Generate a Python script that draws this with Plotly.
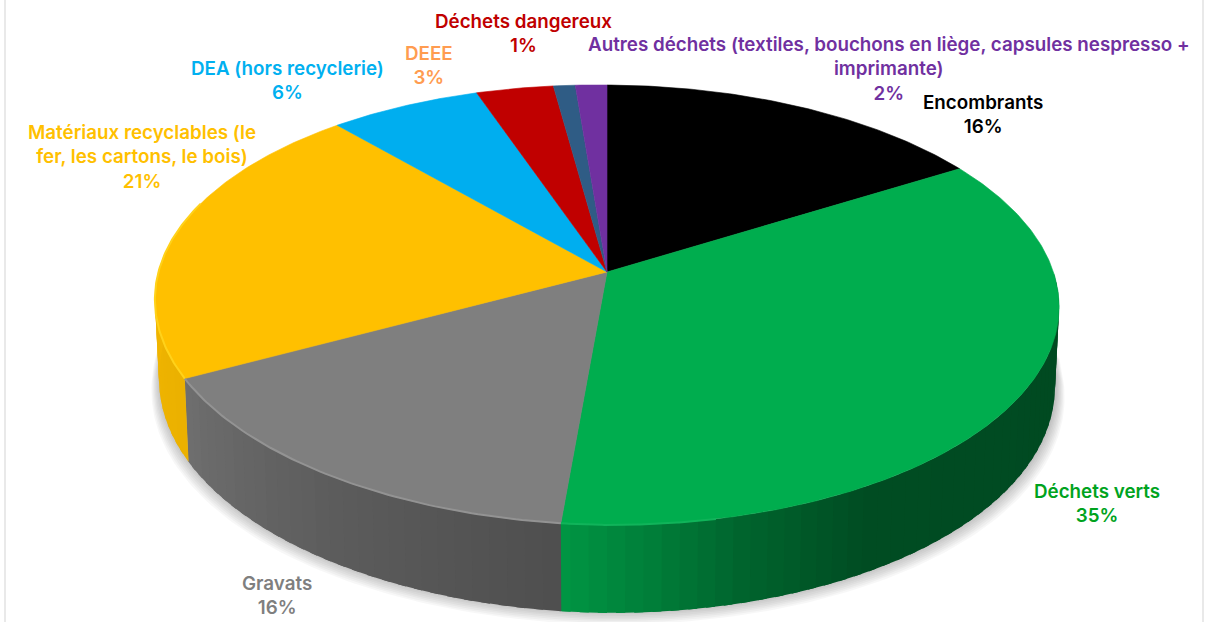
import numpy as np
import plotly.graph_objects as go

# --- data -----------------------------------------------------------------
categories = ["Encombrants", "Déchets verts", "Gravats",
              "Matériaux recyclables (le<br>fer, les cartons, le bois)",
              "DEA (hors recyclerie)", "DEEE", "Déchets dangereux",
              "Autres déchets (textiles, bouchons en liège, capsules nespresso +<br>imprimante)"]
values = [16.2, 35.2, 15.6, 21.3, 6.3, 3.2, 0.9, 1.3]
percent_labels = ["16%", "35%", "16%", "21%", "6%", "3%", "1%", "2%"]
slice_colors = ["#000000", "#00AD4E", "#7F7F7F", "#FFC000",
                "#00AEEF", "#C00000", "#2F5C85", "#7030A0"]
label_colors = ["#000000", "#00A31E", "#7F7F7F", "#FFC000",
                "#00B0F0", "#FF9C50", "#C00000", "#7030A0"]

# --- layout of the projected disc (pixel-based axes) ----------------------
W, H = 1229, 622
CX, CY = 607, 272
A, B, K = 447, 215, 0.15
TILT_LEFT, TILT_RIGHT = 0.012, 0.004
label_pos = [(983, 114), (1097, 503), (277, 595), (142, 157),
             (287, 80), (429, 65), (523, 33), (889, 69)]
# side shading: (angle, brightness factor) per slice
side_shade = {1: [(90, .42), (150, .44), (165, .58), (176, .74), (186, .88)],
              2: [(185, .62), (215, .74), (241, .87)],
              3: [(241, .92), (272, .95)]}
rim_glow = {1: ("#10B45A", 168, None), 2: ("#939393", None, None), 3: ("#FFD21A", None, 288)}


def top(theta):
    t = np.radians(theta)
    w = 1 + K * np.cos(t)
    x = CX + A * np.sin(t) / w
    tilt = np.where(x < CX, TILT_LEFT, TILT_RIGHT)
    y = CY - B * np.cos(t) / w + tilt * (x - CX)
    return x, y


def bottom(theta):
    x, y = top(theta)
    c = np.cos(np.radians(theta))
    return CX + (x - CX) * 0.991, y + 73 + 15 * np.sqrt(np.maximum(0, -c))


def scale(hex_color, f):
    r, g, b = (int(hex_color[i:i + 2], 16) for i in (1, 3, 5))
    return f"rgb({r * f:.0f},{g * f:.0f},{b * f:.0f})"


edges = 360 * np.concatenate([[0], np.cumsum(values)]) / sum(values)
fig = go.Figure()


def poly(x, y, color, line=0.0):
    fig.add_trace(go.Scatter(x=x, y=y, mode="lines", fill="toself", fillcolor=color,
                             line=dict(color=color, width=line), hoverinfo="skip",
                             showlegend=False))


# soft shadow
sh = np.linspace(90, 280, 200)
for grow in range(1, 9):
    bx, by = bottom(sh)
    x = CX + (bx - CX) * (1 + grow * 0.0024) + 1
    y = by + grow * 1.7 - 2
    x = np.concatenate([x, [CX]])
    y = np.concatenate([y, [CY]])
    fig.add_trace(go.Scatter(x=x, y=y, mode="lines", fill="toself",
                             fillcolor="rgba(0,0,0,0.03)", line=dict(width=0),
                             hoverinfo="skip", showlegend=False))

# walls
for i, shades in side_shade.items():
    a0 = max(edges[i], shades[0][0])
    a1 = min(edges[i + 1], shades[-1][0])
    steps = np.arange(a0, a1, 2.0).tolist() + [a1]
    xp, fp = zip(*shades)
    for p, q in zip(steps[:-1], steps[1:]):
        th = np.linspace(p, q + 1.0 if q < a1 else q + 0.3, 5)
        tx, ty = top(th)
        bx, by = bottom(th)
        f = float(np.interp((p + q) / 2, xp, fp))
        poly(np.concatenate([tx, bx[::-1]]), np.concatenate([ty, by[::-1]]),
             scale(slice_colors[i], f))

# top faces
for i, color in enumerate(slice_colors):
    th = np.linspace(edges[i], edges[i + 1], max(6, int(values[i] * 6)))
    x, y = top(th)
    poly(np.concatenate([[CX], x, [CX]]), np.concatenate([[CY], y, [CY]]), color, 0.6)

# bevel highlight on the front rim
for i, (color, a0, a1) in rim_glow.items():
    th = np.linspace(a0 or edges[i], a1 or edges[i + 1], 80)
    x, y = top(th)
    fig.add_trace(go.Scatter(x=x, y=y, mode="lines", line=dict(color=color, width=2),
                             hoverinfo="skip", showlegend=False))

# labels
for cat, pct, col, (lx, ly) in zip(categories, percent_labels, label_colors, label_pos):
    fig.add_annotation(x=lx, y=ly, xref="x", yref="y", text=f"{cat}<br>{pct}",
                       showarrow=False, align="center",
                       font=dict(family="Inter", size=18.8, color=col, weight=600))

# panel edges
for xpos in (5, 1203):
    fig.add_shape(type="line", x0=xpos, x1=xpos, y0=0, y1=H, xref="x", yref="y",
                  line=dict(color="#E2E2E2", width=1.5))

fig.update_layout(width=W, height=H, margin=dict(l=0, r=0, t=0, b=0),
                  paper_bgcolor="white", plot_bgcolor="white", showlegend=False,
                  xaxis=dict(range=[0, W], visible=False, fixedrange=True),
                  yaxis=dict(range=[H, 0], visible=False, fixedrange=True))
fig.write_html("out.html", config={"displayModeBar": False},
               post_script="document.body.style.margin='0';document.body.style.overflow='hidden';")
